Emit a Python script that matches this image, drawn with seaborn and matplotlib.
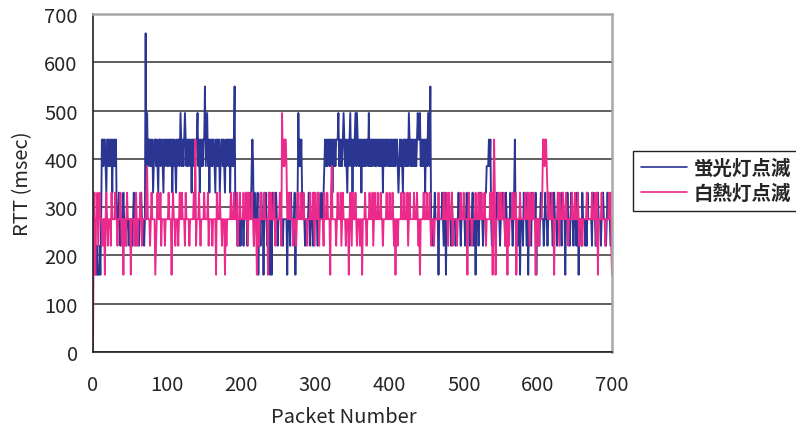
import numpy as np
import pandas as pd
import seaborn as sns
import matplotlib
matplotlib.use("Agg")
import matplotlib.pyplot as plt
from matplotlib.lines import Line2D

# RTT levels seen in the picture (msec); each code digit below picks one level
LEVELS = [0, 160, 220, 275, 330, 385, 440, 495, 550, 660]

# 蛍光灯点滅 (fluorescent lamp blinking), one digit per packet 0..700
fluor_codes = (
    "4423121112 1366566546 6565664656 5633343233 3433323332"
    "3332343323 3323343332 3937566565 6456656546 6566546566"
    "5656656465 6546566576 5656765656 6564656656 6756465656"
    "6856756465 6566546565 6456656546 5665646565 6834323232"
    "3332333423 3343565243 3341332433 1334323341 3143333432"
    "3334332333 3313332433 3341334756 5643332333 3432333243"
    "3332433343 3456565665 6564656566 6756565676 5654656756"
    "4656757656 5646565656 6575656566 5656656565 6465656656"
    "5656565656 6545656546 6565657656 5656565676 6756565646"
    "6576583332 3433331333 3432341333 3332433332 3334332333"
    "3323433323 3342331333 2343332334 4555656323 3432343332"
    "3343332433 3334332346 3332331333 2433324133 3243333413"
    "3323433323 4332334333 2343332433 3324333133 4332343323"
    "3324313332 4333232433 3332433323 2433323343 3323433322 3"
)

# 白熱灯点滅 (incandescent lamp blinking)
incan_codes = (
    "0341334234 3332331343 2333243333 4332333432 3133234333"
    "3133332343 2333432333 3345333234 3333123433 3423333233"
    "3343331343 3233323433 4333243333 2333334362 3334323333"
    "4333342333 3233331433 3433233313 2333334333 4333423343"
    "3334333432 4333433233 3133234333 3433331433 4333432333"
    "3343275656 6533434333 2333234333 4333433332 3334333432"
    "4333423333 3243334333 1453333323 4333423433 3233313432"
    "4333432333 2331333432 3334333423 4333433343 3233334333"
    "4333432313 3233334333 4333423433 3334333432 3133334333"
    "4333432333 2333334333 3334333432 4333423333 3233334333"
    "4333313433 3233334333 4333433343 2333334341 4641333433"
    "4333432331 3233334333 4133334333 3334333432 4333433133"
    "3233334665 6654343334 3313333432 4333433343 3233334333"
    "4333432333 2333334333 3334333432 4133334333 3233334342 1"
)

series_names = ["蛍光灯点滅", "白熱灯点滅"]
series_colors = ["#2b3592", "#ec2a8c"]
x_ticks = [0, 100, 200, 300, 400, 500, 600, 700]
y_ticks = [0, 100, 200, 300, 400, 500, 600, 700]


def decode(codes):
    return [LEVELS[int(c)] for c in codes.replace(" ", "")]


fluor = decode(fluor_codes)
incan = decode(incan_codes)

df = pd.concat([
    pd.DataFrame({"packet": np.arange(len(fluor)), "rtt": fluor, "series": series_names[0]}),
    pd.DataFrame({"packet": np.arange(len(incan)), "rtt": incan, "series": series_names[1]}),
])

sns.set_style("white")
plt.rcParams["font.family"] = ["Noto Sans CJK JP", "DejaVu Sans"]

fig = plt.figure(figsize=(7.96, 4.31), dpi=100)
ax = fig.add_axes([93 / 796, 1 - 353 / 431, 519 / 796, 338 / 431])

sns.lineplot(data=df, x="packet", y="rtt", hue="series", palette=series_colors,
             hue_order=series_names, estimator=None, linewidth=1.35, legend=False, ax=ax)

ax.set_xlim(0, 700)
ax.set_ylim(0, 700)
ax.set_xticks(x_ticks)
ax.set_yticks(y_ticks)
ax.tick_params(axis="x", direction="in", length=5, width=1, color="#333333",
               labelsize=14.5, pad=16)
ax.tick_params(axis="y", length=0, labelsize=14.5, pad=11)

ax.yaxis.grid(True, color="#333333", linewidth=1.1)
ax.xaxis.grid(False)
ax.set_axisbelow(True)

for side in ["left", "bottom"]:
    ax.spines[side].set_color("#222222")
    ax.spines[side].set_linewidth(1.2)
for side in ["top", "right"]:
    ax.spines[side].set_color("#a8a8a8")
    ax.spines[side].set_linewidth(1.8)

ax.set_xlabel("Packet Number", fontsize=14.5)
ax.set_ylabel("RTT (msec)", fontsize=14.5)
ax.xaxis.set_label_coords(0.484, -0.16)
ax.yaxis.set_label_coords(-0.115, 0.5)

handles = [Line2D([], [], color=c, linewidth=1.2) for c in series_colors]
leg = ax.legend(handles, series_names, loc="upper left",
                bbox_to_anchor=(633 / 796, 1 - 152 / 431), bbox_transform=fig.transFigure,
                borderaxespad=0, borderpad=0.4, handlelength=2.4, handletextpad=0.3,
                labelspacing=0.3, fancybox=False, framealpha=1,
                prop={"size": 14, "weight": "bold"})
leg.get_frame().set_edgecolor("#222222")
leg.get_frame().set_linewidth(1.0)

fig.savefig("out.png", dpi=100)
